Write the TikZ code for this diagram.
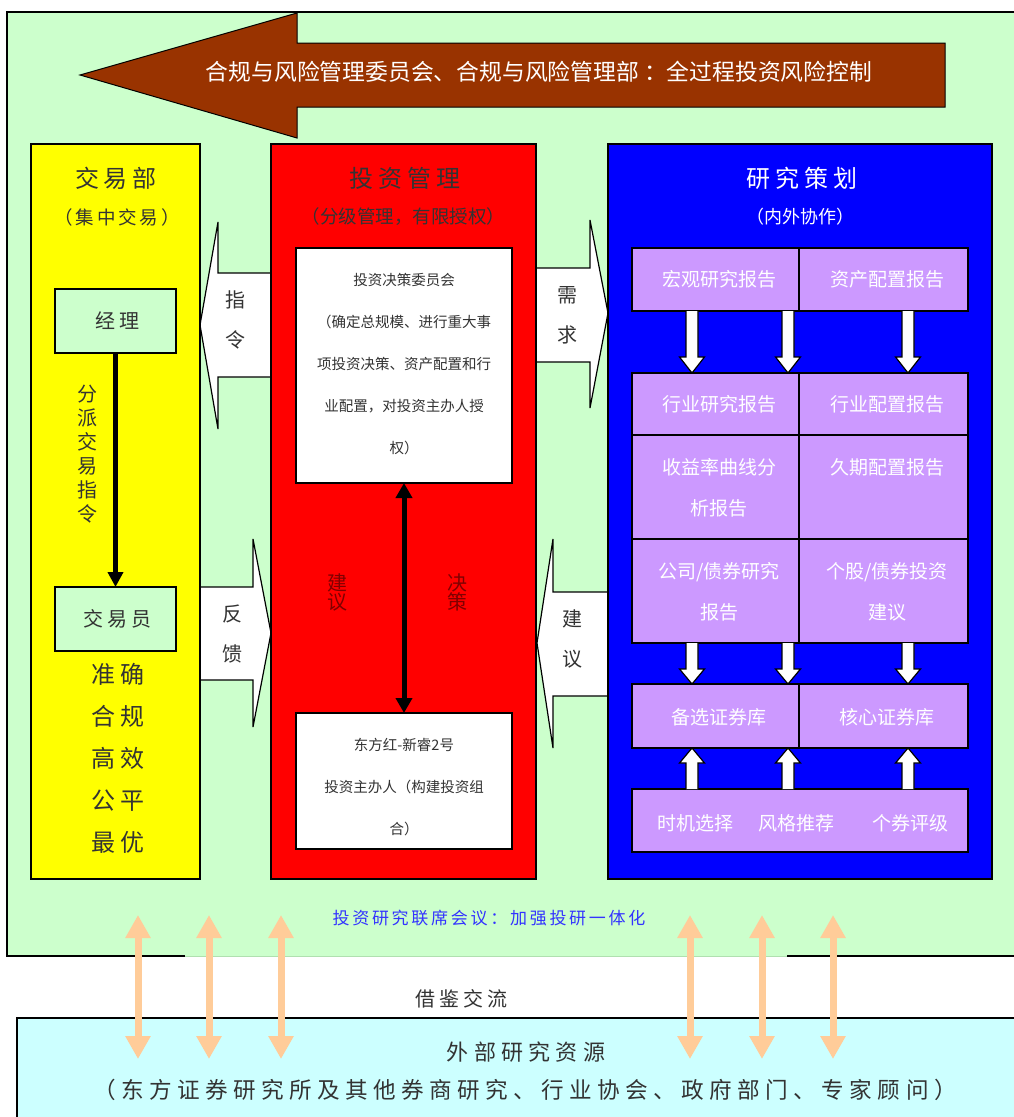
\documentclass[tikz,border=0pt]{standalone}
\usepackage{fontspec}
\setmainfont{Noto Sans CJK SC}
\newfontfamily\spc[LetterSpace=20]{Noto Sans CJK SC}
\newfontfamily\spcw[LetterSpace=24]{Noto Sans CJK SC}
\newfontfamily\spcm[LetterSpace=16]{Noto Sans CJK SC}
\usetikzlibrary{arrows.meta}
\definecolor{gbg}{HTML}{CCFFCC}
\definecolor{cyanbg}{HTML}{CCFFFF}
\definecolor{yel}{HTML}{FFFF00}
\definecolor{redc}{HTML}{FF0000}
\definecolor{bluc}{HTML}{0000FF}
\definecolor{cellc}{HTML}{CC99FF}
\definecolor{brown}{HTML}{993300}
\definecolor{peach}{HTML}{FFCC99}
\definecolor{dred}{HTML}{800000}
\definecolor{dtxt}{HTML}{333333}
\definecolor{meettxt}{HTML}{3333FF}
\definecolor{gedge}{HTML}{B0E0B0}
\newcommand\vblk[4]{\draw[blk] (#1-6,#2) -- (#1-6,#3) -- (#1-12.5,#3) -- (#1,#4) -- (#1+12.5,#3) -- (#1+6,#3) -- (#1+6,#2);}
\begin{document}
\begin{tikzpicture}[x=1pt,y=-1pt,
  box/.style={draw=black,line width=1.8pt,inner sep=0pt,outer sep=0pt},
  cell/.style={box,fill=cellc,line width=1.6pt},
  wbox/.style={box,fill=white,line width=1.3pt},
  gbox/.style={box,fill=gbg,line width=1.5pt},
  blk/.style={draw=black,fill=white,line width=1.2pt,line join=miter},
  ctext/.style={text=white,font=\fontsize{19}{41}\selectfont,align=center,inner sep=0pt},
  wtext/.style={text=dtxt,font=\fontsize{14.5}{42}\selectfont,align=center,inner sep=0pt},
  atext/.style={text=dtxt,font=\fontsize{20}{40}\selectfont,align=center,inner sep=0pt},
  ttl/.style={font=\spc\fontsize{24}{24}\selectfont,inner sep=0pt},
  sub/.style={font=\fontsize{18}{18}\selectfont,inner sep=0pt},
  redtext/.style={text=dred,font=\fontsize{20}{19}\selectfont,align=center,inner sep=0pt},
  peacharr/.style={draw=peach,line width=7pt,{Triangle[length=23pt,width=24pt]}-{Triangle[length=23pt,width=24pt]}},
  blackarr/.style={draw=black,line width=4.5pt,-{Triangle[length=15pt,width=15pt]}},
  dblarr/.style={draw=black,line width=5pt,{Triangle[length=15pt,width=16pt]}-{Triangle[length=15pt,width=16pt]}}
]
\useasboundingbox (0,0) rectangle (1013,1117);
% green background
\fill[gbg] (7,12) rectangle (1025,956);
\draw[line width=1.5pt] (1025,12) -- (7,12) -- (7,956) -- (185,956);
\draw[line width=1.5pt] (787,956) -- (1025,956);
\draw[gedge,line width=1pt] (185,956) -- (787,956);
% cyan external box
\fill[cyanbg,draw=black,line width=1.5pt] (17,1018) rectangle (1030,1130);
% top brown arrow
\filldraw[fill=brown,draw=black,line width=1pt] (80,75) -- (297,13) -- (297,43) -- (945,43) -- (945,107) -- (297,107) -- (297,138) -- cycle;
\node[text=white,font=\fontsize{22.8}{22.8}\selectfont,inner sep=0pt] (ctl) at (539,72) {合规与风险管理委员会、合规与风险管理部 ：全过程投资风险控制};
% block arrows between columns
\draw[blk] (271,273) -- (218,273) -- (218,222) -- (200,325) -- (218,429) -- (218,377) -- (271,377);
\draw[blk] (200,587) -- (253,587) -- (253,539) -- (271,633) -- (253,727) -- (253,680) -- (200,680);
\draw[blk] (536,268) -- (590,268) -- (590,220) -- (608,313) -- (590,408) -- (590,362) -- (536,362);
\draw[blk] (607,592) -- (553,592) -- (553,539) -- (537,643) -- (553,748) -- (553,696) -- (607,696);
\node[atext] (zl) at (235,320) {指\\令};
\node[atext] (fk) at (232,634) {反\\馈};
\node[atext] (xq) at (567,315) {需\\求};
\node[atext] (jy) at (572,639) {建\\议};
% column boxes
\node[box,fill=yel,minimum width=169,minimum height=735] (yb) at (115.5,511.5) {};
\node[box,fill=redc,minimum width=265,minimum height=735] (rb) at (403.5,511.5) {};
\node[box,fill=bluc,minimum width=384,minimum height=735] (bb) at (800,511.5) {};
% yellow column
\node[ttl,text=dtxt] (jyb) at (116,178) {交易部};
\node[text=dtxt,font=\spcm\fontsize{18.5}{18.5}\selectfont,inner sep=0pt] (jzjy) at (117,217) {（集中交易）};
\node[gbox,minimum width=121,minimum height=64] (mgr) at (115.5,321) {};
\node[gbox,minimum width=121,minimum height=64] (trd) at (115.5,619) {};
\node[text=dtxt,font=\spc\fontsize{20}{20}\selectfont,inner sep=0pt] at (117,321) {经理};
\node[text=dtxt,font=\spc\fontsize{20}{20}\selectfont,inner sep=0pt] at (117,619) {交易员};
\draw[blackarr] (mgr.south) -- (trd.north);
\node[text=dtxt,font=\fontsize{20}{24}\selectfont,align=center,inner sep=0pt] (fp) at (87,454) {分\\派\\交\\易\\指\\令};
\node[text=dtxt,font=\spc\fontsize{24}{42}\selectfont,align=center,inner sep=0pt] (zq) at (118,758.5) {准确\\合规\\高效\\公平\\最优};
% red column
\node[ttl,text=dtxt] (tzgl) at (405,178) {投资管理};
\node[text=dtxt,font=\fontsize{18.5}{18.5}\selectfont,inner sep=0pt] (fjgl) at (403.5,217) {（分级管理，有限授权）};
\node[wbox,minimum width=216,minimum height=235] (wb1) at (404,365.5) {};
\node[wbox,minimum width=216,minimum height=136] (wb2) at (404,781) {};
\node[wtext] (wt1) at (404,364) {投资决策委员会\\（确定总规模、进行重大事\\项投资决策、资产配置和行\\业配置，对投资主办人授\\权）};
\node[wtext] (wt2) at (404,787) {东方红-新睿2号\\投资主办人（构建投资组\\合）};
\draw[dblarr] (wb1.south) -- (wb2.north);
\node[redtext] (jy2) at (337,592) {建\\议};
\node[redtext] (jc) at (457,592) {决\\策};
% blue column
\node[ttl,text=white] (yjch) at (802,178) {研究策划};
\node[sub,text=white] (nwxz) at (800,217) {（内外协作）};
\node[cell,minimum width=167,minimum height=63] (c11) at (715.5,279.5) {};
\node[cell,minimum width=169,minimum height=63] (c12) at (883.5,279.5) {};
\node[cell,minimum width=167,minimum height=62] (c21) at (715.5,404) {};
\node[cell,minimum width=169,minimum height=62] (c22) at (883.5,404) {};
\node[cell,minimum width=167,minimum height=104] (c31) at (715.5,487) {};
\node[cell,minimum width=169,minimum height=104] (c32) at (883.5,487) {};
\node[cell,minimum width=167,minimum height=104] (c41) at (715.5,591) {};
\node[cell,minimum width=169,minimum height=104] (c42) at (883.5,591) {};
\node[cell,minimum width=167,minimum height=64] (c51) at (715.5,716) {};
\node[cell,minimum width=169,minimum height=64] (c52) at (883.5,716) {};
\node[cell,minimum width=336,minimum height=63] (c6) at (800,820.5) {};
\node[ctext] at (719,279.5) {宏观研究报告};
\node[ctext] at (887,279.5) {资产配置报告};
\node[ctext] at (719,404) {行业研究报告};
\node[ctext] at (887,404) {行业配置报告};
\node[ctext] at (719,487.5) {收益率曲线分\\析报告};
\node[ctext] at (887,467) {久期配置报告};
\node[ctext] at (719,592) {公司/债券研究\\报告};
\node[ctext] at (887,592) {个股/债券投资\\建议};
\node[ctext] at (719,717) {备选证券库};
\node[ctext] at (887,717) {核心证券库};
\node[ctext] at (695,823) {时机选择};
\node[ctext] at (796,823) {风格推荐};
\node[ctext] at (910,823) {个券评级};
\vblk{692}{311}{357}{373}
\vblk{788}{311}{357}{373}
\vblk{908}{311}{357}{373}
\vblk{692}{643}{669}{684}
\vblk{788}{643}{669}{684}
\vblk{908}{643}{669}{684}
\vblk{692}{789}{763}{748}
\vblk{788}{789}{763}{748}
\vblk{908}{789}{763}{748}
% meeting text
\node[text=meettxt,font=\spcm\fontsize{17}{17}\selectfont,inner sep=0pt] (mt) at (489,918) {投资研究联席会议：加强投研一体化};
% peach double arrows
\foreach \i/\x in {1/138,2/209,3/281,4/690,5/762,6/833}{
  \coordinate (pt\i) at (\x,915);
  \coordinate (pb\i) at (\x,1059);
  \draw[peacharr] (pt\i) -- (pb\i);
}
\node[text=dtxt,font=\spc\fontsize{20}{20}\selectfont,inner sep=0pt] (jjjl) at (461,999) {借鉴交流};
\node[text=dtxt,font=\spcw\fontsize{22}{22}\selectfont,inner sep=0pt] (wbzy) at (526,1052) {外部研究资源};
\node[text=dtxt,font=\spcw\fontsize{22.6}{22.6}\selectfont,inner sep=0pt] (wbl) at (525,1090) {（东方证券研究所及其他券商研究、行业协会、政府部门、专家顾问）};
\end{tikzpicture}
\end{document}
